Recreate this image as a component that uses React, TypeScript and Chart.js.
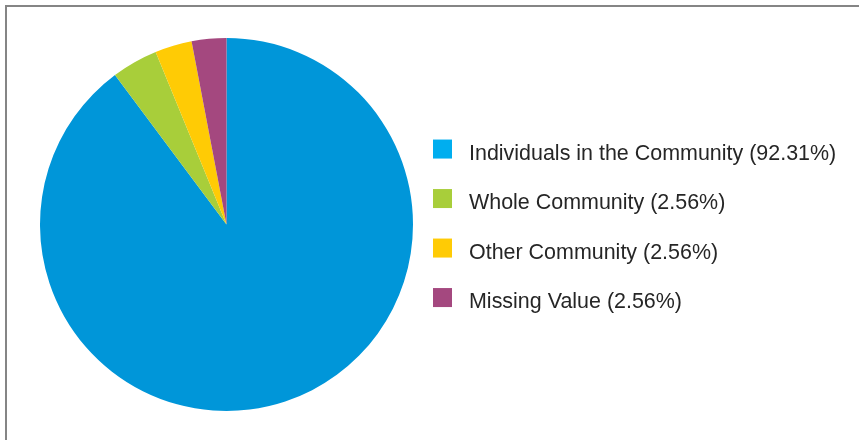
import React, { useEffect, useRef } from "react";
import { Chart, registerables } from "chart.js";

Chart.register(...registerables);

const categories: string[] = [
  "Individuals in the Community",
  "Whole Community",
  "Other Community",
  "Missing Value",
];
// slice sizes as drawn in the picture (percent of the circle)
const sliceValues: number[] = [89.8, 4.0, 3.2, 3.0];
// percentages printed in the legend
const legendPercents: string[] = ["92.31%", "2.56%", "2.56%", "2.56%"];
const sliceColors: string[] = ["#0096D9", "#A8CE3A", "#FFCB05", "#A4487F"];
const legendColors: string[] = ["#00AEEF", "#A8CE3A", "#FFCB05", "#A4487F"];

const FONT = '"Liberation Sans", Arial, sans-serif';

const sideLegend = {
  id: "sideLegend",
  afterDraw(chart: any) {
    const { ctx, chartArea } = chart;
    const labels: string[] = chart.data.labels;
    const cy = (chartArea.top + chartArea.bottom) / 2;
    const step = 49.5;
    const box = 19;
    const x0 = chartArea.right + 20;
    const top0 = cy - 1.5 * step - box / 2 - 1.2;
    const sx = 0.975;
    ctx.save();
    ctx.font = `22px ${FONT}`;
    ctx.textBaseline = "alphabetic";
    ctx.textAlign = "left";
    labels.forEach((lab, i) => {
      const y = top0 + i * step;
      ctx.fillStyle = legendColors[i];
      ctx.fillRect(x0, y, box, box);
      ctx.fillStyle = "#262626";
      ctx.save();
      ctx.translate(x0 + box + 17, y + 20);
      ctx.scale(sx, 1);
      ctx.fillText(`${lab} (${legendPercents[i]})`, 0, 0);
      ctx.restore();
    });
    ctx.restore();
  },
};

export default function App() {
  const ref = useRef<HTMLCanvasElement | null>(null);
  useEffect(() => {
    if (!ref.current) return;
    const chart = new Chart(ref.current, {
      type: "pie",
      data: {
        labels: categories,
        datasets: [
          {
            data: sliceValues,
            backgroundColor: sliceColors,
            borderWidth: 0,
          },
        ],
      },
      options: {
        animation: false,
        responsive: false,
        layout: { padding: { left: 40, right: 446, top: 38, bottom: 29 } },
        plugins: {
          legend: { display: false },
          tooltip: { enabled: false },
        },
      },
      plugins: [sideLegend],
    });
    return () => chart.destroy();
  }, []);
  return (
    <div style={{ position: "fixed", left: 0, top: 0, width: 859, height: 440, background: "#fff" }}>
      <div
        style={{
          position: "absolute",
          left: 5,
          top: 5,
          right: 0,
          bottom: 0,
          borderTop: "2px solid #858585",
          borderLeft: "2px solid #858585",
        }}
      />
      <canvas ref={ref} width={859} height={440} style={{ position: "absolute", left: 0, top: 0 }} />
    </div>
  );
}
